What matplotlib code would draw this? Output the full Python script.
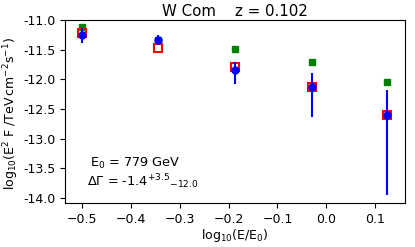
import numpy as np
import matplotlib.pyplot as plt

# data
log_e = [-0.50, -0.345, -0.186, -0.029, 0.124]
model_green = [-11.12, -11.33, -11.49, -11.70, -12.05]
model_red = [-11.22, -11.48, -11.79, -12.13, -12.60]
flux = [-11.26, -11.34, -11.85, -12.13, -12.60]
err_up = [0.13, 0.09, 0.15, 0.23, 0.42]
err_lo = [0.13, 0.05, 0.23, 0.50, 1.35]

plt.rcParams['font.size'] = 9
fig = plt.figure(figsize=(4.15, 2.47), dpi=100)
ax = fig.add_axes([65 / 415, 44 / 247, 340 / 415, 183 / 247])

ax.plot(log_e, model_green, 's', color='green', ms=5)
ax.plot(log_e, model_red, 's', mfc='none', mec='red', mew=1.5, ms=6)
ax.errorbar(log_e, flux, yerr=[err_lo, err_up], fmt='o', color='blue',
            ms=5, elinewidth=1.5, capsize=0)

ax.set_xlim(-0.535, 0.161)
ax.set_ylim(-14.085, -11.0)
ax.set_yticks(np.arange(-14.0, -10.9, 0.5))
ax.set_yticklabels(['%.1f' % v for v in np.arange(-14.0, -10.9, 0.5)])

ax.set_xlabel('log$_{10}$(E/E$_0$)', labelpad=1)
ax.set_ylabel(r'log$_{10}$(E$^2$ F /TeV$\,$cm$^{-2}$s$^{-1}$)')
ax.yaxis.set_label_coords(-0.13, 0.49)
ax.set_title('W Com    z = 0.102', pad=3)

ax.text(-0.484, -13.48, 'E$_0$ = 779 GeV', fontsize=9.3)
ax.text(-0.49, -13.80, r'$\Delta\Gamma$ = -1.4$^{+3.5}$$_{-12.0}$', fontsize=9.3)

fig.savefig('out.png', dpi=100)
